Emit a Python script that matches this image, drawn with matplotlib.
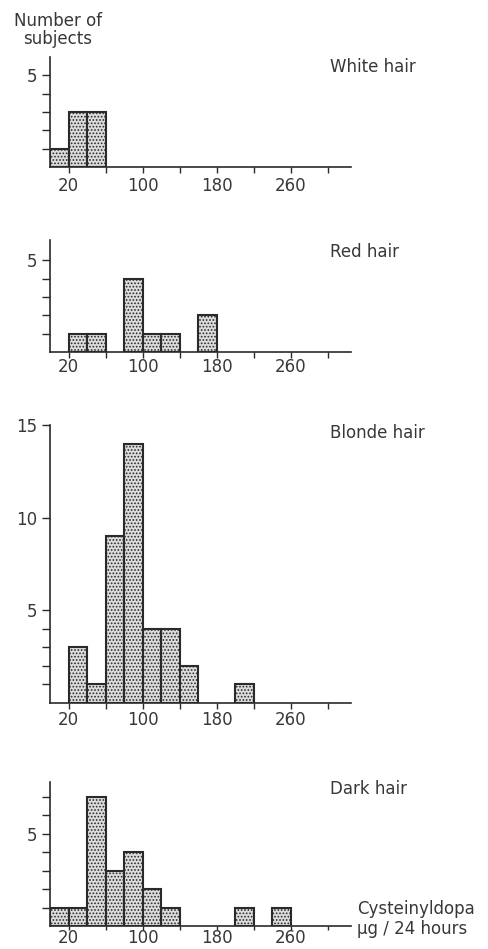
import numpy as np
import matplotlib.pyplot as plt

plt.rcParams['font.family'] = ['DejaVu Sans']
plt.rcParams['hatch.linewidth'] = 0.8
plt.rcParams['hatch.color'] = '#555555'

# cysteinyldopa bins (ug / 24 hours), 20 wide
bin_left = [0, 20, 40, 60, 80, 100, 120, 140, 160, 180, 200, 220, 240, 260, 280, 300]
white_counts = [1, 3, 3, 0, 0, 0, 0, 0, 0, 0, 0, 0, 0, 0, 0, 0]
red_counts = [0, 1, 1, 0, 4, 1, 1, 0, 2, 0, 0, 0, 0, 0, 0, 0]
blonde_counts = [0, 3, 1, 9, 14, 4, 4, 2, 0, 0, 1, 0, 0, 0, 0, 0]
dark_counts = [1, 1, 7, 3, 4, 2, 1, 0, 0, 0, 1, 0, 1, 0, 0, 0]

panel_names = ["White hair", "Red hair", "Blonde hair", "Dark hair"]
x_ticks = [20, 60, 100, 140, 180, 220, 260, 300]
x_labels = ["20", "", "100", "", "180", "", "260", ""]

W, H = 489, 949
fig = plt.figure(figsize=(W / 100, H / 100), dpi=100)

# (top px, bottom px, ymax, major ticks, minor ticks, label y px, x tick length, x label pad)
panels = [
    (white_counts, 57, 167, 6.0, [5], [1, 2, 3, 4], 67, 4, 3),
    (red_counts, 240, 352, 6.1, [5], [1, 2, 3, 4], 252, 4, 0),
    (blonde_counts, 425, 703, 15.0, [5, 10, 15], [1, 2, 3, 4], 433, 4, 2),
    (dark_counts, 782, 926, 7.8, [5], [1, 2, 3, 4, 6, 7], 789, 3, -1),
]

left_px, right_px = 50, 351
ink = '#2a2a2a'
txt = '#383838'

for (counts, top, bottom, ymax, major, minor, ly, xlen, xpad), name in zip(panels, panel_names):
    ax = fig.add_axes([left_px / W, 1 - bottom / H, (right_px - left_px) / W, (bottom - top) / H])
    xs = [b for b, c in zip(bin_left, counts) if c > 0]
    hs = [c for c in counts if c > 0]
    ax.bar(xs, hs, width=20, align='edge', facecolor='#dcdcdc', edgecolor=ink,
           linewidth=1.5, hatch='.....', zorder=3)
    ax.set_xlim(0, 325)
    ax.set_ylim(0, ymax)
    for s in ['top', 'right']:
        ax.spines[s].set_visible(False)
    for s in ['left', 'bottom']:
        ax.spines[s].set_color(ink)
        ax.spines[s].set_linewidth(1.2)
    ax.set_xticks(x_ticks)
    ax.set_xticklabels(x_labels)
    ax.set_yticks(major)
    ax.set_yticks(minor, minor=True)
    ax.tick_params(axis='both', which='both', direction='out', color=ink,
                   width=1.0, labelsize=12, labelcolor=txt)
    ax.tick_params(axis='x', length=xlen, pad=xpad)
    ax.tick_params(axis='y', which='major', length=6, pad=3)
    ax.tick_params(axis='y', which='minor', length=6)
    ax.patch.set_alpha(0)
    fig.text(330 / W, 1 - ly / H, name, fontsize=12, color=txt, va='center', ha='left')

fig.text(58 / W, 1 - 30 / H, "Number of\nsubjects", fontsize=12, color=txt,
         ha='center', va='center', linespacing=1.05)
fig.text(357 / W, 1 - 919 / H, "Cysteinyldopa\n\u00b5g / 24 hours", fontsize=12, color=txt,
         ha='left', va='center', linespacing=1.1)

fig.savefig("out.png", dpi=100, facecolor='white')
